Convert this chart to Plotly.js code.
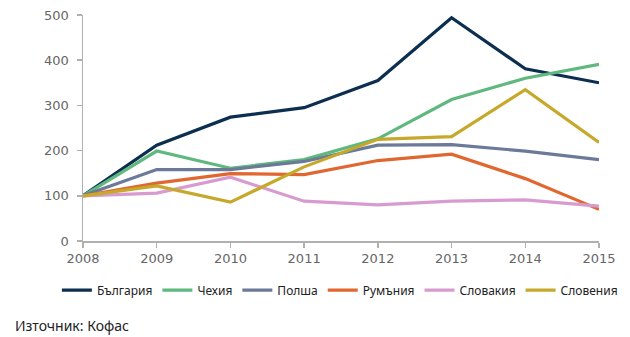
<!DOCTYPE html>
<html>
<head>
<meta charset="utf-8">
<script src="https://cdn.plot.ly/plotly-3.0.1.min.js"></script>
<style>html,body{margin:0;padding:0;background:#fff}#chart{width:630px;height:337px}</style>
</head>
<body>
<div id="chart"></div>
<script>
const years = [2008, 2009, 2010, 2011, 2012, 2013, 2014, 2015];
const seriesNames = ["България", "Чехия", "Полша", "Румъния", "Словакия", "Словения"];
const bulgaria = [100, 212, 274, 295, 355, 494, 381, 350];
const czechia  = [100, 199, 161, 180, 226, 313, 360, 391];
const poland   = [100, 158, 158, 176, 212, 213, 199, 180];
const romania  = [100, 128, 149, 147, 178, 192, 138, 70];
const slovakia = [100, 106, 141, 88, 80, 88, 91, 77];
const slovenia = [100, 122, 86, 164, 225, 231, 335, 218];
const yTicks = [0, 100, 200, 300, 400, 500];
const sourceText = "Източник: Кофас";

const seriesValues = [bulgaria, czechia, poland, romania, slovakia, slovenia];
const colors = ["#0d2f4f", "#5fb87e", "#6b7a99", "#e0672f", "#d89bd0", "#c6a92b"];

const traces = seriesValues.map((vals, i) => ({
  x: years, y: vals, name: seriesNames[i], type: "scatter", mode: "lines",
  line: {color: colors[i], width: 3.2}
}));

const layout = {
  width: 630, height: 337,
  margin: {l: 83, r: 31, t: 15, b: 96},
  paper_bgcolor: "#fff", plot_bgcolor: "#fff",
  showlegend: true,
  xaxis: {
    range: [2008, 2015], tickvals: years, ticktext: years.map(String),
    showgrid: false, zeroline: false, showline: true, linecolor: "#b0b0b0", linewidth: 1.5,
    ticks: "outside", ticklen: 5, tickcolor: "#b0b0b0", tickwidth: 1.5,
    tickfont: {family: "DejaVu Sans", size: 13, color: "#666"}, fixedrange: true
  },
  yaxis: {
    range: [0, 500], tickvals: yTicks, ticktext: yTicks.map(String),
    showgrid: false, zeroline: false, showline: true, linecolor: "#b0b0b0", linewidth: 1.5,
    ticks: "outside", ticklen: 5, tickcolor: "#b0b0b0", tickwidth: 1.5,
    ticklabelstandoff: 5,
    tickfont: {family: "DejaVu Sans", size: 13, color: "#666"}, fixedrange: true
  },
  legend: {
    orientation: "h", x: -0.0506, xanchor: "left", y: -0.153, yanchor: "top",
    font: {family: "Noto Sans", size: 12, color: "#222"},
    bgcolor: "rgba(0,0,0,0)"
  },
  annotations: [{
    text: sourceText, xref: "paper", yref: "paper", x: -0.136, y: -0.372,
    xanchor: "left", yanchor: "middle", showarrow: false,
    font: {family: "Noto Sans", size: 14, color: "#222"}
  }]
};

Plotly.newPlot("chart", traces, layout, {displayModeBar: false, staticPlot: true});
</script>
</body>
</html>
